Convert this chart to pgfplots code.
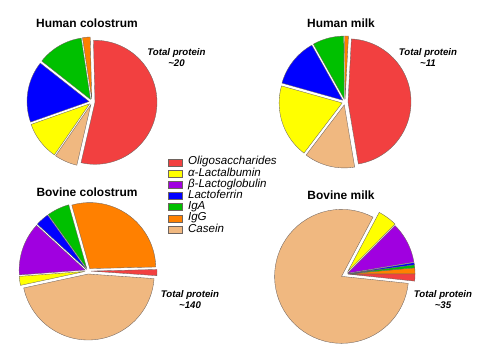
\documentclass[border=0pt]{standalone}
\usepackage{pgfplots}
\pgfplotsset{compat=1.18}
\usepackage{fontspec}
\setmainfont{Liberation Sans}
\definecolor{cOli}{RGB}{242,64,64}
\definecolor{cAla}{RGB}{255,255,0}
\definecolor{cBlg}{RGB}{160,0,224}
\definecolor{cLf}{RGB}{0,0,255}
\definecolor{cIgA}{RGB}{0,192,0}
\definecolor{cIgG}{RGB}{255,128,0}
\definecolor{cCas}{RGB}{240,184,128}
\definecolor{edge}{RGB}{110,100,95}

% pie helpers: centre x, centre y, radius, start angle
\newcommand\piestart[4]{\xdef\pcx{#1}\xdef\pcy{#2}\xdef\pr{#3}\xdef\pang{#4}}
% slice: percent, explode offset, colour
\newcommand\pslice[3]{%
  \pgfmathsetmacro\aone{\pang}%
  \pgfmathsetmacro\atwo{\pang+3.6*#1}%
  \pgfmathsetmacro\amid{(\aone+\atwo)/2}%
  \pgfmathsetmacro\ox{\pcx+#2*cos(\amid)}%
  \pgfmathsetmacro\oy{\pcy+#2*sin(\amid)}%
  \edef\tmp{\noexpand\addplot[forget plot, fill=#3, draw=edge, line width=0.35pt,
     domain=\aone:\atwo, samples=60, variable=\noexpand\t]
     ({\ox+\pr*cos(\noexpand\t)},{\oy+\pr*sin(\noexpand\t)}) -- (axis cs:\ox,\oy) -- cycle;}%
  \tmp
  \xdef\pang{\atwo}}

\begin{document}
\begin{tikzpicture}
\begin{axis}[
  width=490bp, height=348bp, scale only axis,
  xmin=0, xmax=490, ymin=0, ymax=348,
  hide axis, clip=false,
  legend image code/.code={\draw[#1] (0bp,-3.5bp) rectangle (14bp,3.5bp);},
  legend style={at={(axis cs:168,191.5)}, anchor=north west, draw=none, fill=none,
    inner sep=0pt, row sep=0pt,
    font=\fontsize{11.6}{11.6}\selectfont\itshape,
    /tikz/every odd column/.style={column sep=5bp},
    nodes={inner xsep=0.5pt, inner ysep=0pt, text height=8.2bp, text depth=3bp}},
  legend cell align=left,
]
% Human colostrum: Oli, IgG, IgA, Lf, aLac, Casein
\piestart{92}{246}{62}{-103}
\pslice{54}{3}{cOli}
\pslice{2}{3}{cIgG}
\pslice{12}{3}{cIgA}
\pslice{16}{3}{cLf}
\pslice{10}{3}{cAla}
\pslice{6}{3}{cCas}
% Human milk
\piestart{345}{246}{63}{-80.5}
\pslice{46.5}{3}{cOli}
\pslice{1}{3}{cIgG}
\pslice{8}{3}{cIgA}
\pslice{12.5}{3}{cLf}
\pslice{19}{3}{cAla}
\pslice{13}{3}{cCas}
% Bovine colostrum
\piestart{88}{77}{66}{-4}
\pslice{1.5}{3}{cOli}
\pslice{29}{3}{cIgG}
\pslice{5.5}{3}{cIgA}
\pslice{3.3}{3}{cLf}
\pslice{13}{3}{cBlg}
\pslice{2.2}{3}{cAla}
\pslice{45.5}{3}{cCas}
% Bovine milk
\piestart{346}{74}{67}{-6}
\pslice{1.7}{2}{cOli}
\pslice{1.4}{2}{cIgG}
\pslice{0.7}{2}{cIgA}
\pslice{0.5}{2}{cLf}
\pslice{9.9}{2}{cBlg}
\pslice{4.7}{3}{cAla}
\pslice{81.1}{5}{cCas}

\addlegendimage{fill=cOli, draw=edge}\addlegendentry{Oligosaccharides}
\addlegendimage{fill=cAla, draw=edge}\addlegendentry{α-Lactalbumin}
\addlegendimage{fill=cBlg, draw=edge}\addlegendentry{β-Lactoglobulin}
\addlegendimage{fill=cLf, draw=edge}\addlegendentry{Lactoferrin}
\addlegendimage{fill=cIgA, draw=edge}\addlegendentry{IgA}
\addlegendimage{fill=cIgG, draw=edge}\addlegendentry{IgG}
\addlegendimage{fill=cCas, draw=edge}\addlegendentry{Casein}

\begin{scope}[every node/.style={font=\fontsize{12}{14}\selectfont\bfseries}]
\node at (axis cs:87,325) {Human colostrum};
\node at (axis cs:341,325) {Human milk};
\node at (axis cs:87,156) {Bovine colostrum};
\node at (axis cs:341,153) {Bovine milk};
\end{scope}
\begin{scope}[every node/.style={font=\fontsize{9.7}{11}\selectfont\bfseries\itshape, align=center}]
\node at (axis cs:176.5,290.5) {Total protein\\\textasciitilde20};
\node at (axis cs:428,290.5) {Total protein\\\textasciitilde11};
\node at (axis cs:190,48.5) {Total protein\\\textasciitilde140};
\node at (axis cs:443,48.5) {Total protein\\\textasciitilde35};
\end{scope}
\end{axis}
\pgfresetboundingbox
\path (current axis.south west) rectangle (current axis.north east);
\end{tikzpicture}
\end{document}
